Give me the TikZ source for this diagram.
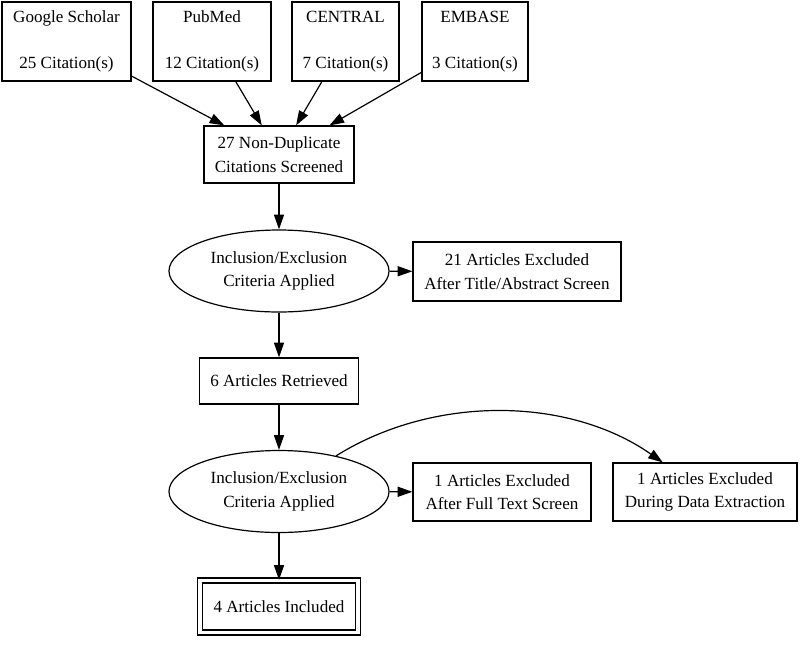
\documentclass[tikz,border=0pt]{standalone}
\usepackage{fontspec}
\setmainfont{Liberation Serif}
\usetikzlibrary{shapes.geometric,arrows.meta}

\begin{document}
\begin{tikzpicture}[x=0.75pt,y=-0.75pt,font=\fontsize{12.8}{17.5}\selectfont,line width=0.9pt,>={Triangle[length=11pt,width=7.5pt]}]
\tikzstyle{source node}=[rectangle,draw,align=center,minimum height=59.25pt,inner sep=2pt]
\tikzstyle{box node}=[rectangle,draw,align=center,minimum height=43.5pt,inner sep=2pt]
\tikzset{
	oval node/.style={ellipse,draw,align=center,minimum width=165pt,minimum height=61.5pt,inner sep=0},
	final node/.style={rectangle,draw,double,double distance=2.8pt,minimum width=118.5pt,minimum height=39pt}
}
\useasboundingbox (0,0) rectangle (800,647);
% databases
\node[source node,minimum width=96.75pt] (scholar) at (66.5,41.5) {Google Scholar\\[17.5pt]25 Citation(s)};
\node[source node,minimum width=88.5pt] (pubmed) at (212,41.5) {PubMed\\[17.5pt]12 Citation(s)};
\node[source node,minimum width=80.25pt] (central) at (345.5,41.5) {CENTRAL\\[17.5pt]7 Citation(s)};
\node[source node,minimum width=79.5pt] (embase) at (475,41.5) {EMBASE\\[17.5pt]3 Citation(s)};
% screening
\node[box node,minimum width=112.5pt,minimum height=42.75pt] (screened) at (279,154.5) {27 Non-Duplicate\\Citations Screened};
\node[oval node] (criteria1) at (279,271) {Inclusion/Exclusion\\Criteria Applied};
\node[box node,minimum width=156pt,minimum height=44.25pt] (excluded1) at (517,271.5) {21 Articles Excluded\\After Title/Abstract Screen};
\node[box node,minimum width=119.25pt,minimum height=34.5pt] (retrieved) at (279,381) {6 Articles Retrieved};
\node[oval node] (criteria2) at (279,491.5) {Inclusion/Exclusion\\Criteria Applied};
\node[box node,minimum width=133.5pt] (excluded2) at (502,492) {1 Articles Excluded\\After Full Text Screen};
\node[box node,minimum width=138pt] (excluded3) at (705,492) {1 Articles Excluded\\During Data Extraction};
\node[final node] (included) at (279,606.5) {4 Articles Included};

\draw[->] (scholar) -- (screened);
\draw[->] (pubmed) -- (screened);
\draw[->] (central) -- (screened);
\draw[->] (embase) -- (screened);
\draw[->] (screened) -- (criteria1);
\draw[->] (criteria1) -- (excluded1);
\draw[->] (criteria1) -- (retrieved);
\draw[->] (retrieved) -- (criteria2);
\draw[->] (criteria2) -- (excluded2);
\draw[->] (criteria2) to[out=32,in=145,looseness=0.9] (excluded3);
\draw[->] (criteria2) -- (included);
\end{tikzpicture}
\end{document}
